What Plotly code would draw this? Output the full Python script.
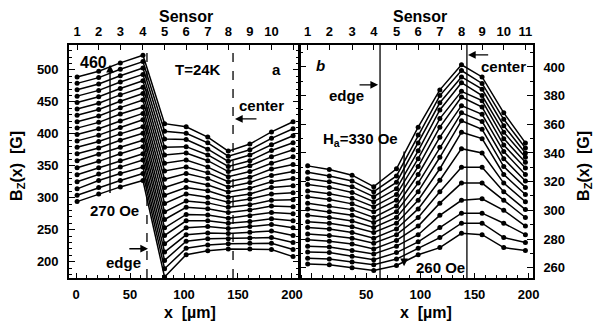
import plotly.graph_objects as go

# ---------------- Panel a (T=24K, increasing field 270 -> 460 Oe) ----------------
xa = [1, 21, 41, 62, 82, 102, 122, 141, 161, 181, 201]          # sensor positions (um)
a_s1 = [489, 479, 469, 459, 449, 439, 429, 419, 409, 399, 389, 379, 369, 358, 347, 336, 325, 314, 304, 294]
a_s2 = [498, 488, 478, 468, 458, 448, 438, 428, 418, 408, 398, 388, 378, 368, 357, 347, 337, 327, 316, 306]
a_s3 = [511, 501, 491, 481, 471, 461, 451, 441, 431, 420, 410, 400, 390, 379, 369, 358, 348, 338, 327, 317]
a_s4 = [523, 513, 503, 493, 483, 473, 463, 453, 442, 432, 422, 411, 401, 390, 380, 369, 359, 348, 338, 327]
a_s5 = [416, 404, 392, 379, 367, 354, 342, 329, 316, 304, 291, 278, 266, 253, 241, 228, 215, 202, 189, 176]
a_s6 = [411, 401, 391, 380, 370, 359, 348, 338, 327, 316, 306, 295, 285, 274, 264, 253, 242, 232, 221, 211]
a_s7 = [395, 386, 376, 367, 358, 348, 339, 330, 320, 311, 301, 292, 283, 273, 264, 255, 245, 236, 226, 217]
a_s8 = [373, 365, 357, 349, 341, 333, 325, 317, 309, 301, 293, 285, 277, 268, 260, 252, 244, 236, 228, 220]
a_s9 = [384, 375, 367, 358, 350, 341, 332, 324, 315, 306, 298, 289, 281, 272, 263, 255, 246, 237, 229, 220]
a_s10 = [403, 393, 383, 374, 364, 354, 345, 335, 325, 316, 306, 296, 287, 277, 267, 258, 248, 238, 229, 219]
a_s11 = [419, 408, 397, 386, 375, 364, 352, 341, 330, 319, 308, 297, 286, 275, 264, 253, 241, 230, 219, 208]
a_cols = [a_s1, a_s2, a_s3, a_s4, a_s5, a_s6, a_s7, a_s8, a_s9, a_s10, a_s11]

# ---------------- Panel b (decreasing field 330 -> 260 Oe) ----------------
xb = [-4, 16, 37, 57, 78, 98, 118, 138, 157, 177, 197]
b_s1 = [331, 326.5, 322, 318, 313.5, 309.5, 305, 301, 296.5, 292, 288, 283.5, 279.5, 275, 271, 266.5, 262.5]
b_s2 = [328.5, 324, 320, 316, 311.5, 307.5, 303, 299, 295, 291, 287, 282.5, 278.5, 274.5, 270.5, 266, 262]
b_s3 = [324.5, 320.5, 316.5, 312.5, 308.5, 304.5, 300.5, 296.5, 292.5, 288.5, 284.5, 280.5, 276.5, 272, 268, 264, 260]
b_s4 = [316.5, 313, 309.5, 306, 302.5, 299, 295, 291.5, 288, 284.5, 280.5, 277, 273, 269.5, 265.5, 262, 258]
b_s5 = [329, 324, 319.5, 315, 311, 307, 303, 299, 295, 291, 287, 283, 279, 275, 270.5, 266, 261.5]
b_s6 = [358, 352.5, 347, 341.5, 336, 330.5, 325, 319, 313, 307, 301, 295, 289, 283, 278, 273.5, 269]
b_s7 = [384, 380, 375, 370, 364, 358, 351, 344, 337, 329, 321, 313, 305, 296.5, 288, 281, 274]
b_s8 = [401.5, 397.5, 393, 389, 383, 379, 373, 368, 362.5, 354.5, 343, 330, 319, 307, 298, 291, 284]
b_s9 = [393, 388.5, 384.5, 380, 376.5, 372, 367, 362, 356.5, 350, 340, 330, 319, 308, 298, 291, 283]
b_s10 = [368, 363.5, 359, 354.5, 350, 345.5, 341, 336, 330.5, 325, 319, 313, 307, 300, 291, 281, 274]
b_s11 = [347, 343.5, 340, 337, 333.5, 329.5, 325, 320.5, 316, 311, 306, 300.5, 295, 289, 283, 277.5, 272]
b_cols = [b_s1, b_s2, b_s3, b_s4, b_s5, b_s6, b_s7, b_s8, b_s9, b_s10, b_s11]

sensor_labels_a = ["1", "2", "3", "4", "5", "6", "7", "8", "9", "10", ""]
sensor_labels_b = ["1", "2", "3", "4", "5", "6", "7", "8", "9", "10", "11"]
xticks_a = [0, 50, 100, 150, 200]
xtext_a = ["0", "50", "100", "150", "200"]
xtext_b = ["", "50", "100", "150", "200"]
edge_a, center_a = 65.7, 145.4
edge_b, center_b = 62.8, 143.0

FONT = "Liberation Sans, Arial, sans-serif"
fig = go.Figure()

line_style = dict(color="black", width=1.5)
mk = dict(color="black", size=5)

for k in range(len(a_s1)):
    fig.add_trace(go.Scatter(x=xa, y=[c[k] for c in a_cols], mode="lines+markers",
                             line=line_style, marker=mk, xaxis="x", yaxis="y",
                             showlegend=False, hoverinfo="skip"))
for k in range(len(b_s1)):
    fig.add_trace(go.Scatter(x=xb, y=[c[k] for c in b_cols], mode="lines+markers",
                             line=line_style, marker=mk, xaxis="x2", yaxis="y2",
                             showlegend=False, hoverinfo="skip"))
# carriers for the top (sensor) axes
fig.add_trace(go.Scatter(x=xa, y=[None] * len(xa), xaxis="x3", yaxis="y",
                         mode="markers", showlegend=False, hoverinfo="skip"))
fig.add_trace(go.Scatter(x=xb, y=[None] * len(xb), xaxis="x4", yaxis="y2",
                         mode="markers", showlegend=False, hoverinfo="skip"))

ra = [-6.5, 206.5]
rb = [-11.1, 204.0]
ya_rng = [174.5, 539]
yb_rng = [252.8, 415.3]
dA = [0, 0.4957]
dB = [0.4978, 1]

common = dict(showline=True, linecolor="black", linewidth=1.6, ticks="inside",
              tickcolor="black", tickwidth=1.3, showgrid=False, zeroline=False,
              automargin=False,
              tickfont=dict(family=FONT, size=13, color="black", weight="bold"))
minor = dict(dtick=10, ticks="inside", ticklen=3, tickcolor="black", tickwidth=1, showgrid=False)

# the page adds an 8px body margin, so margins are offset to land the plot box at
# x 69..533, y 45..278 in the captured window
fig.update_layout(
    template="none",
    width=601, height=329,
    margin=dict(l=61, r=76, t=37, b=59, autoexpand=False),
    paper_bgcolor="white", plot_bgcolor="white",
    font=dict(family=FONT, color="black"),
    xaxis=dict(domain=dA, range=ra, tickvals=xticks_a, ticktext=xtext_a, ticklen=5,
               minor=minor, anchor="y", ticklabelstandoff=4, **common),
    xaxis2=dict(domain=dB, range=rb, tickvals=xticks_a, ticktext=xtext_b, ticklen=5,
                minor=minor, anchor="y2", ticklabelstandoff=4, **common),
    xaxis3=dict(overlaying="x", side="top", anchor="y", range=ra, tickvals=xa,
                ticktext=sensor_labels_a, ticklen=5, ticklabelstandoff=2, **common),
    xaxis4=dict(overlaying="x2", side="top", anchor="y2", range=rb, tickvals=xb,
                ticktext=sensor_labels_b, ticklen=5, ticklabelstandoff=2, **common),
    yaxis=dict(domain=[0, 1], range=ya_rng, tickvals=[200, 250, 300, 350, 400, 450, 500],
               ticklen=6, mirror="ticks", anchor="x", ticklabelstandoff=6,
               minor=minor, **common),
    yaxis2=dict(domain=[0, 1], range=yb_rng, tickvals=[260, 280, 300, 320, 340, 360, 380, 400],
                ticklen=6, mirror="ticks", anchor="x2", side="right", ticklabelstandoff=6,
                minor=minor, **common),
)

# edge / center markers
for xv in (edge_a, center_a):
    fig.add_shape(type="line", xref="x", yref="y", x0=xv, x1=xv, y0=ya_rng[0], y1=ya_rng[1],
                  line=dict(color="black", width=1.3, dash="dash"))
for xv in (edge_b, center_b):
    fig.add_shape(type="line", xref="x2", yref="y2", x0=xv, x1=xv, y0=yb_rng[0], y1=yb_rng[1],
                  line=dict(color="black", width=1.3))

tf = dict(family=FONT, size=15, color="black", weight="bold")
def txt(x, y, s, xr, yr, size=15):
    fig.add_annotation(x=x, y=y, xref=xr, yref=yr, text=s, showarrow=False,
                       font=dict(tf, size=size), xanchor="center", yanchor="middle")

# panel a labels
txt(16.2, 511.7, "460", "x", "y", 16)
txt(113.4, 500, "T=24K", "x", "y")
txt(186, 500, "a", "x", "y")
txt(171.8, 443.7, "center", "x", "y")
txt(35.6, 279.7, "270 Oe", "x", "y")
txt(44.4, 198.4, "edge", "x", "y")
# panel b labels
txt(8.3, 400.7, "<i>b</i>", "x2", "y2")
txt(31.4, 379.8, "edge", "x2", "y2")
txt(45.2, 349.2, "H<sub>a</sub>=330 Oe", "x2", "y2")
txt(176.4, 400, "center", "x2", "y2")
txt(119, 260, "260 Oe", "x2", "y2")

def arrow(x0, y0, x1, y1, xr, yr, head=2):
    fig.add_annotation(x=x1, y=y1, ax=x0, ay=y0, xref=xr, yref=yr, axref=xr, ayref=yr,
                       text="", showarrow=True, arrowhead=head, arrowsize=1.1,
                       arrowwidth=1.4, arrowcolor="black")

arrow(168.5, 423.4, 147.2, 423.4, "x", "y")      # center arrow a
arrow(48.0, 220.3, 66.7, 220.3, "x", "y")        # edge arrow a
arrow(31.5, 305, 31.5, 508, "x", "y")            # field sweep a
arrow(42.5, 387.5, 61.0, 387.5, "x2", "y2")      # edge arrow b
arrow(164.0, 408.4, 144.0, 408.4, "x2", "y2")    # center arrow b
arrow(85.0, 342, 85.0, 261, "x2", "y2")          # field sweep b

# axis titles
ttl = dict(family=FONT, size=16, color="black", weight="bold")
for x, y, s, ang in [(0.252, 1.123, "Sensor", 0), (0.7565, 1.123, "Sensor", 0),
                     (0.261, -0.148, "x  [µm]", 0), (0.769, -0.148, "x  [µm]", 0),
                     (-0.110, 0.481, "B<sub>Z</sub>(x)  [G]", -90),
                     (1.112, 0.481, "B<sub>Z</sub>(x)  [G]", -90)]:
    fig.add_annotation(x=x, y=y, xref="paper", yref="paper", text=s, showarrow=False,
                       font=ttl, textangle=ang, xanchor="center", yanchor="middle")

fig.write_html("out.html")
